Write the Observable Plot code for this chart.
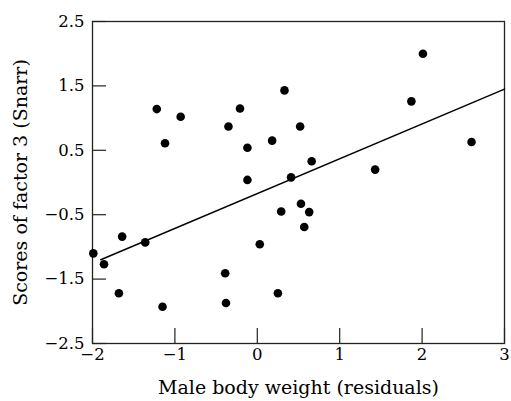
<!DOCTYPE html>
<html>
<head>
<meta charset="utf-8">
<script src="https://cdn.jsdelivr.net/npm/d3@7"></script>
<script src="https://cdn.jsdelivr.net/npm/@observablehq/plot@0.6"></script>
<style>
  html, body { margin: 0; padding: 0; background: #fff; }
</style>
</head>
<body>
<div id="chart"></div>
<script>
const weightResid = [2.01, 1.87, 2.60, 1.43, 0.33, -1.22, -0.93, -0.21, -0.35, 0.52, -1.12, -0.12, 0.18, 0.66, -0.12, 0.41, 0.53, 0.29, 0.63, 0.57, 0.03, -1.64, -1.36, -1.99, -1.86, -0.39, -1.68, 0.25, -0.38, -1.15];
const factor3 = [2.00, 1.26, 0.63, 0.20, 1.43, 1.14, 1.02, 1.15, 0.87, 0.87, 0.61, 0.54, 0.65, 0.33, 0.04, 0.08, -0.33, -0.45, -0.46, -0.69, -0.96, -0.84, -0.93, -1.10, -1.27, -1.41, -1.72, -1.72, -1.87, -1.93];
const fitX = [-1.90, 3.0];
const fitY = [-1.20, 1.45];
const xTicks = [-2, -1, 0, 1, 2, 3];
const yTicks = [-2.5, -1.5, -0.5, 0.5, 1.5, 2.5];
const xTitle = "Male body weight (residuals)";
const yTitle = "Scores of factor 3 (Snarr)";

const points = weightResid.map((x, i) => ({x, y: factor3[i]}));
const fit = fitX.map((x, i) => ({x, y: fitY[i]}));

const W = 511, H = 401, mL = 92, mR = 7, mT = 21, mB = 58;
const fmt = d => (d < 0 ? "\u2212" : "") + Math.abs(d).toString();

const chart = Plot.plot({
  width: W, height: H,
  marginLeft: mL, marginRight: mR, marginTop: mT, marginBottom: mB,
  style: {fontFamily: "'DejaVu Serif', serif", background: "#fff", color: "#000"},
  x: {domain: [-2, 3]},
  y: {domain: [-2.5, 2.5]},
  marks: [
    Plot.frame({stroke: "#222", strokeWidth: 1.3}),
    Plot.tickY(yTicks, {y: d => d, insetRight: (W - mL - mR) - 14, stroke: "#222", strokeWidth: 1.2}),
    Plot.tickX(xTicks, {x: d => d, insetTop: (H - mT - mB) - 15, stroke: "#222", strokeWidth: 1.2}),
    Plot.axisY({ticks: yTicks, tickSize: 0, tickPadding: 8, tickFormat: fmt, fontSize: 16.5, label: null}),
    Plot.axisX({ticks: xTicks, tickSize: 0, tickPadding: 5, tickFormat: fmt, fontSize: 16.5, label: null}),
    Plot.line(fit, {x: "x", y: "y", stroke: "#000", strokeWidth: 1.5}),
    Plot.dot(points, {x: "x", y: "y", r: 4.3, fill: "#000", stroke: "none"}),
    Plot.text([xTitle], {text: d => d, frameAnchor: "bottom", dy: 50, fontSize: 19, fill: "#000"}),
    Plot.text([yTitle], {text: d => d, frameAnchor: "left", textAnchor: "middle", rotate: -90, dx: -72, fontSize: 19, fill: "#000"})
  ]
});
document.getElementById("chart").appendChild(chart);
</script>
</body>
</html>
